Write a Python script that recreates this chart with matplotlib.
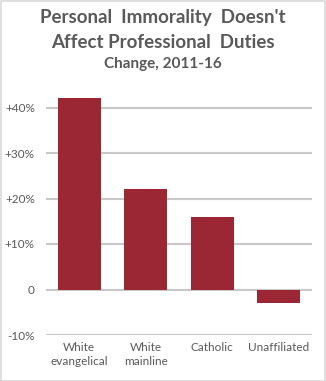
import numpy as np
import matplotlib.pyplot as plt
from matplotlib.patches import Rectangle

groups = ["White\nevangelical", "White\nmainline", "Catholic", "Unaffiliated"]
change = [42, 22, 16, -3]
ticks = [-10, 0, 10, 20, 30, 40]
tick_labels = ["-10%", "0", "+10%", "+20%", "+30%", "+40%"]

bar_color = "#9b2735"
text_color = "#595959"
grid_color = "#c8c8c8"

plt.rcParams['font.family'] = ['Lato', 'DejaVu Sans']

W, H = 326, 381
fig = plt.figure(figsize=(W / 100, H / 100), dpi=100)

# outer frame
fig.patches.append(Rectangle((0.5 / W, 0.5 / H), 1 - 1.5 / W, 1 - 1.5 / H,
                             transform=fig.transFigure, fill=False,
                             edgecolor="#d9d9d9", linewidth=1.2))

fig.text(0.5, 1 - 18 / H, "Personal  Immorality  Doesn't", ha="center", va="center",
         fontsize=13.5, fontweight="bold", color=text_color)
fig.text(0.5, 1 - 43 / H, "Affect Professional  Duties", ha="center", va="center",
         fontsize=13.5, fontweight="bold", color=text_color)
fig.text(0.5, 1 - 64 / H, "Change, 2011-16", ha="center", va="center",
         fontsize=11, fontweight="bold", color=text_color)

ymin, ymax = -10, 45
px_per_unit = 4.55
ax_bottom = 335
ax_top = ax_bottom - (ymax - ymin) * px_per_unit
ax = fig.add_axes([46 / W, 1 - ax_bottom / H, 266 / W, (ax_bottom - ax_top) / H])

# horizontal gridlines behind the bars
ax.hlines(ticks, -0.5, len(groups) - 0.5, colors=grid_color, linewidth=1.5, zorder=0.5)

x = np.arange(len(groups))
ax.bar(x, change, width=0.65, color=bar_color, zorder=2)

ax.set_xlim(-0.5, len(groups) - 0.5)
ax.set_ylim(ymin, ymax)
ax.set_yticks(ticks)
ax.set_yticklabels(tick_labels)
ax.set_xticks(x)
ax.set_xticklabels(groups, linespacing=1.35)
ax.tick_params(axis="both", length=0, colors=text_color, labelsize=8.5)
ax.tick_params(axis="y", pad=8)
ax.tick_params(axis="x", pad=5)
for s in ax.spines.values():
    s.set_visible(False)

fig.savefig("out.png", dpi=100)
